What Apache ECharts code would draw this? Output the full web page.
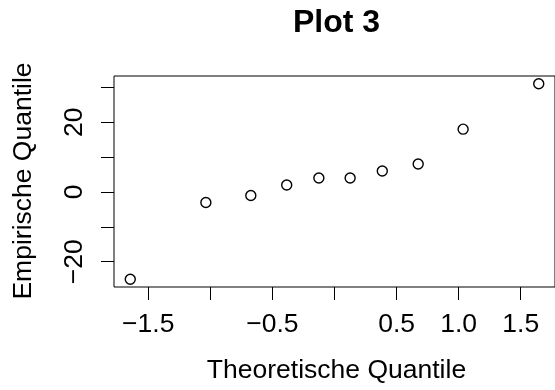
<!DOCTYPE html>
<html>
<head>
<meta charset="utf-8">
<script src="https://cdn.jsdelivr.net/npm/echarts@6/dist/echarts.min.js"></script>
<style>
html,body{margin:0;padding:0;background:#fff;}
#chart{width:555px;height:390px;}
</style>
</head>
<body>
<div id="chart"></div>
<script>
const theoretical = [-1.645, -1.036, -0.674, -0.385, -0.126, 0.126, 0.385, 0.674, 1.036, 1.645];
const empirical = [-25, -3, -1, 2, 4, 4, 6, 8, 18, 31];
const xTickValues = [-1.5, -1.0, -0.5, 0, 0.5, 1.0, 1.5];
const xLabelValues = [-1.5, -0.5, 0.5, 1.0, 1.5];
const yTickValues = [-20, -10, 0, 10, 20, 30];
const yLabelValues = [-20, 0, 20];
const titleText = 'Plot 3';
const xTitle = 'Theoretische Quantile';
const yTitle = 'Empirische Quantile';

const FONT = '"Liberation Sans", Arial, Helvetica, sans-serif';
const fmt = (v, d) => {
  const s = Math.abs(v).toFixed(d);
  return v < 0 ? '\u2212' + s : s;
};

const chart = echarts.init(document.getElementById('chart'), null, {renderer: 'canvas'});
const points = theoretical.map((x, i) => [x, empirical[i]]);

chart.setOption({
  animation: false,
  backgroundColor: '#fff',
  grid: {
    left: 114, top: 76, width: 445, height: 211,
    show: true, borderColor: '#000', borderWidth: 1, backgroundColor: 'transparent'
  },
  xAxis: {
    type: 'value', min: -1.776, max: 1.776, position: 'bottom',
    axisLine: {show: false, onZero: false},
    splitLine: {show: false},
    axisTick: {show: true, length: 13, inside: false, customValues: xTickValues, lineStyle: {color: '#000', width: 1}},
    axisLabel: {show: true, customValues: xLabelValues, margin: 24, color: '#000', fontSize: 26.5, fontFamily: FONT,
      formatter: v => fmt(v, 1)}
  },
  yAxis: {
    type: 'value', min: -27.24, max: 33.24, position: 'left',
    axisLine: {show: false, onZero: false},
    splitLine: {show: false},
    axisTick: {show: true, length: 13, inside: false, customValues: yTickValues, lineStyle: {color: '#000', width: 1}},
    axisLabel: {show: true, customValues: yLabelValues, rotate: 90, margin: 26, color: '#000', fontSize: 26.5, fontFamily: FONT,
      formatter: v => fmt(v, 0)}
  },
  series: [{
    type: 'scatter',
    data: points,
    symbol: 'circle',
    symbolSize: 10,
    itemStyle: {color: 'rgba(0,0,0,0)', borderColor: '#000', borderWidth: 1.4, opacity: 1},
    emphasis: {disabled: true},
    clip: false
  }],
  graphic: [
    {type: 'text', x: 336.5, y: 23, style: {text: titleText, font: 'bold 32px ' + FONT, fill: '#000', textAlign: 'center', textVerticalAlign: 'middle'}},
    {type: 'text', x: 336.5, y: 371, style: {text: xTitle, font: '26.5px ' + FONT, fill: '#000', textAlign: 'center', textVerticalAlign: 'middle'}},
    {type: 'text', x: 24, y: 181, rotation: Math.PI / 2, style: {text: yTitle, font: '26.5px ' + FONT, fill: '#000', textAlign: 'center', textVerticalAlign: 'middle'}}
  ]
});
</script>
</body>
</html>
